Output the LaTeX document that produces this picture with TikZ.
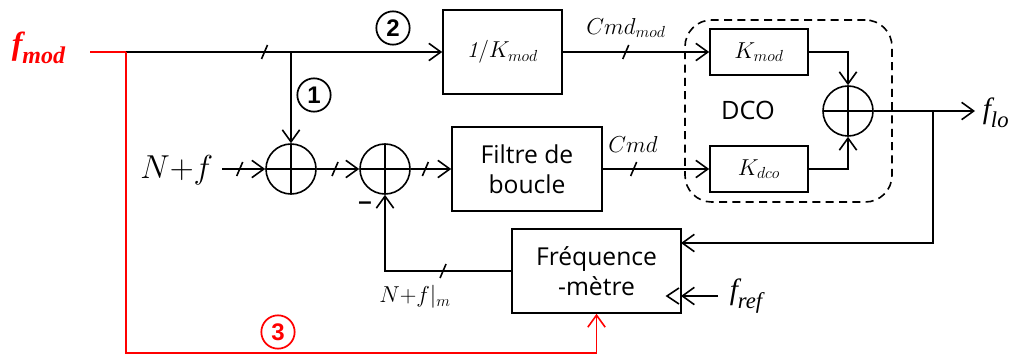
\documentclass[tikz,border=0pt]{standalone}
\usepackage{fontspec}
\newfontfamily\sansf{Open Sans}
\newfontfamily\timesf{Liberation Serif}
\newfontfamily\arialf{Liberation Sans}
\usetikzlibrary{arrows.meta}
\tikzset{
  arr/.style={-{Straight Barb[length=9pt,width=13pt,line width=1.2pt]}},
  sumnode/.style={circle,draw,minimum size=37.5pt,inner sep=0pt,
    path picture={\draw (path picture bounding box.north) -- (path picture bounding box.south)
      (path picture bounding box.west) -- (path picture bounding box.east);}},
  blk/.style={draw,rectangle,minimum height=63pt,inner sep=0pt,align=center,
    font=\sansf\fontsize{18.5}{22.5}\selectfont},
  kblk/.style={draw,rectangle,minimum width=73.5pt,minimum height=34.5pt,inner sep=0pt,
    font=\fontsize{16.5}{16.5}\selectfont},
  num/.style={circle,draw,line width=1.3pt,minimum size=25pt,inner sep=0pt,
    font=\arialf\bfseries\fontsize{18}{18}\selectfont},
  mlabel/.style={inner sep=0pt,font=\fontsize{17}{17}\selectfont},
  busmark/.pic={\draw[-,line width=1.2pt] (-3,7) -- (3,-7);}
}
\begin{document}
\begin{tikzpicture}[x=0.75pt,y=-0.75pt,line width=1.2pt]
\useasboundingbox (0,0) rectangle (1014,356);

% nodes
\node[sumnode] (c1) at (291,169) {};
\node[sumnode] (c2) at (385,169) {};
\node[sumnode] (c3) at (848,111) {};
\node[blk,minimum width=89.25pt,font=\fontsize{17}{17}\selectfont] (inv) at (502.5,52) {$\mathit{1}/K_{mod}$};
\node[blk,minimum width=112.5pt] (filt) at (527,169) {Filtre de\\boucle};
\node[blk,minimum width=126.75pt] (freq) at (596.5,271) {Fréquence\\-mètre};
\node[kblk] (kmod) at (759,52) {$K_{mod}$};
\node[kblk] (kdco) at (759,169) {$K_{dco}$};
\node[draw,dashed,dash pattern=on 6pt off 4pt,rounded corners=20pt,
      minimum width=155.25pt,minimum height=136.5pt,inner sep=0pt] (dco) at (788.5,111) {};
\node[font=\sansf\fontsize{19}{19}\selectfont,inner sep=0pt] (dcol) at (748,110) {DCO};

\node[num] (n1) at (314,95) {1};
\node[num] (n2) at (393,28) {2};
\node[num,red] (n3) at (278,332) {3};

\node[inner sep=0pt,red,anchor=west] (fmod) at (11,48)
  {\timesf\bfseries\itshape\fontsize{24}{24}\selectfont f\raisebox{-0.3em}{\fontsize{18}{18}\selectfont mod}};
\node[inner sep=0pt,anchor=west] (flo) at (982,113)
  {\timesf\itshape\fontsize{22}{22}\selectfont f\raisebox{-0.3em}{\fontsize{17}{17}\selectfont lo}};
\node[inner sep=0pt,anchor=west] (fref) at (729,296)
  {\timesf\itshape\fontsize{22}{22}\selectfont f\raisebox{-0.3em}{\fontsize{17}{17}\selectfont ref}};
\node[inner sep=0pt,anchor=east,font=\fontsize{24}{24}\selectfont] (nf) at (214,170) {$N{+}f$};
\node[mlabel] (nfm) at (415,297) {$N{+}f|_m$};
\node[mlabel] (cmdm) at (626,28) {$Cmd_{mod}$};
\node[mlabel] (cmd) at (633,145) {$Cmd$};
\node[inner sep=0pt,font=\arialf\bfseries\fontsize{18}{18}\selectfont] (minus) at (365,206) {–};

% coordinates
\coordinate (in) at (90,52);
\coordinate (split) at (126,52);
\coordinate (br) at (291,52);
\coordinate (nfin) at (222,169);
\coordinate (out) at (975,111);
\coordinate (tap) at (933,111);
\coordinate (fbin) at (681,243);
\coordinate (frefin) at (718,296);
\coordinate (frefend) at (681,296);
\coordinate (rc) at (126,353);

% connectors
\draw[red] (in) -- (split);
\draw[arr] (split) -- (inv.west) pic[pos=0.438]{busmark};
\draw[arr] (br) -- (c1.north);
\draw[arr] (nfin) -- (c1.west) pic[pos=0.41]{busmark};
\draw[arr] (c1.east) -- (c2.west) pic[pos=0.43]{busmark};
\draw[arr] (c2.east) -- (filt.west) pic[pos=0.36]{busmark};
\draw[arr] (inv.east) -- (kmod.west) pic[pos=0.43]{busmark};
\draw[arr] (filt.east) -- (kdco.west) pic[pos=0.29]{busmark};
\draw[arr] (kmod.east) -| (c3.north);
\draw[arr] (kdco.east) -| (c3.south);
\draw[arr] (c3.east) -- (out);
\draw[arr] (tap) |- (fbin);
\draw[arr] (frefin) -- (frefend);
\draw (679,288) -- (667,296) -- (679,304);
\draw[arr] (freq.west) -| (c2.south) pic[pos=0.27]{busmark};
\draw[red,line width=1pt,arr] (split) -- (rc) -| (freq.south);
\end{tikzpicture}
\end{document}
